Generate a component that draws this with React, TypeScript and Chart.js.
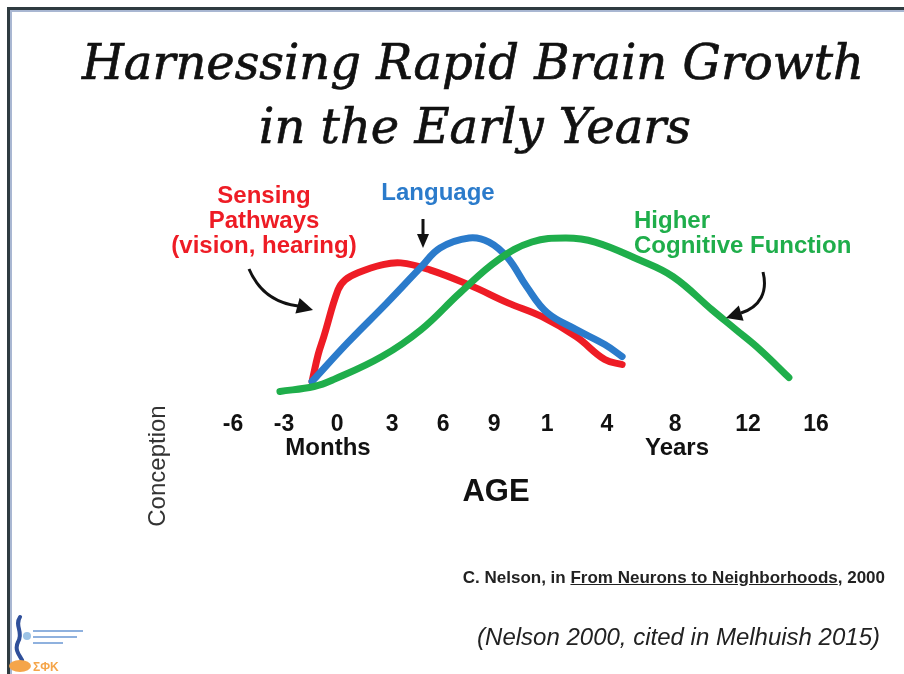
import React, { useEffect, useRef } from "react";
import { Chart, registerables } from "chart.js";

Chart.register(...registerables);

// ---- axis ticks (positions in axis units, labels as printed) ----
const TICK_POS = [0, 1, 2.04, 3.12, 4.12, 5.12, 6.16, 7.33, 8.67, 10.1, 11.43];
const TICK_LABELS = ["-6", "-3", "0", "3", "6", "9", "1", "4", "8", "12", "16"];

// ---- series (x in axis units, y = relative growth 0..100) ----
const SENSING_X = [1.55, 1.67, 1.78, 2.06, 2.2, 2.45, 2.92, 3.29, 3.86, 4.63, 5.39, 6.06, 6.73, 7.29, 7.63];
const SENSING_Y = [10.6, 26.5, 37, 64.7, 70.6, 74.7, 79.4, 80.6, 76.5, 67.6, 57, 48.8, 37, 23.5, 20.6];

const LANGUAGE_X = [1.55, 2.25, 3.02, 3.69, 4.06, 4.63, 5.02, 5.39, 5.76, 6.16, 6.73, 7.29, 7.63];
const LANGUAGE_Y = [10.6, 33.5, 57, 78.2, 89.4, 95.3, 92.9, 83.5, 66.5, 51.2, 41.2, 32.4, 25.3];

const COGNITIVE_X = [0.92, 1.59, 1.98, 2.92, 3.69, 4.45, 5.2, 5.86, 6.53, 7.1, 7.96, 8.63, 9.39, 9.86, 10.33, 10.9];
const COGNITIVE_Y = [4.7, 7.6, 11.8, 25.3, 41.2, 62.9, 82.4, 92.9, 95.3, 92.9, 82.4, 72.4, 52.9, 41.2, 29.4, 12.9];

const SANS = '"Liberation Sans", Arial, Helvetica, sans-serif';
const SERIF = '"DejaVu Serif", "Liberation Serif", serif';

const RED = "#ee1c25";
const BLUE = "#2b7bcb";
const GREEN = "#1fae4b";

const toPoints = (xs: number[], ys: number[]) => xs.map((x, i) => ({ x, y: ys[i] }));

function Txt(props: {
  text: React.ReactNode;
  x: number;
  y: number;
  size: number;
  color?: string;
  weight?: string;
  italic?: boolean;
  family?: string;
  align?: "center" | "left" | "right";
  stroke?: number;
}) {
  const { text, x, y, size, color = "#111", weight = "normal", italic = false, family = SANS, align = "center", stroke = 0 } = props;
  const style: React.CSSProperties = {
    position: "absolute",
    top: y - size / 2,
    whiteSpace: "nowrap",
    fontFamily: family,
    fontSize: size,
    lineHeight: `${size}px`,
    fontWeight: weight as any,
    fontStyle: italic ? "italic" : "normal",
    color,
  };
  if (stroke) (style as any).WebkitTextStroke = `${stroke}px ${color}`;
  if (align === "center") {
    style.left = x;
    style.transform = "translateX(-50%)";
  } else if (align === "left") {
    style.left = x;
  } else {
    style.right = 904 - x;
  }
  return <div style={style}>{text}</div>;
}

export default function App() {
  const canvasRef = useRef<HTMLCanvasElement | null>(null);

  useEffect(() => {
    if (!canvasRef.current) return;
    const lineStyle = {
      borderWidth: 7,
      pointRadius: 0,
      tension: 0.4,
      borderCapStyle: "round" as const,
      borderJoinStyle: "round" as const,
      fill: false,
      clip: false as any,
    };
    const chart = new Chart(canvasRef.current, {
      type: "line",
      data: {
        datasets: [
          { label: "Higher Cognitive Function", data: toPoints(COGNITIVE_X, COGNITIVE_Y), borderColor: GREEN, ...lineStyle },
          { label: "Language", data: toPoints(LANGUAGE_X, LANGUAGE_Y), borderColor: BLUE, ...lineStyle },
          { label: "Sensing Pathways", data: toPoints(SENSING_X, SENSING_Y), borderColor: RED, ...lineStyle },
        ],
      },
      options: {
        responsive: false,
        animation: false,
        maintainAspectRatio: false,
        layout: { padding: { left: 182, right: 8, top: 230, bottom: 225 } },
        plugins: {
          legend: { display: false },
          tooltip: { enabled: false },
          title: { display: false },
        },
        scales: {
          x: {
            type: "linear",
            min: -1,
            max: 13,
            grid: { display: false, drawTicks: false },
            border: { display: false },
            afterBuildTicks: (scale: any) => {
              scale.ticks = TICK_POS.map((v) => ({ value: v }));
            },
            ticks: {
              autoSkip: false,
              maxRotation: 0,
              minRotation: 0,
              padding: 11,
              color: "#111",
              font: { family: SANS, size: 23, weight: "bold" },
              callback: (_v: any, i: number) => TICK_LABELS[i],
            },
          },
          y: { display: false, min: 0, max: 100 },
        },
      },
    } as any);
    return () => chart.destroy();
  }, []);

  return (
    <div
      style={{
        position: "fixed",
        left: 0,
        top: 0,
        width: 904,
        height: 674,
        background: "#fff",
        overflow: "hidden",
      }}
    >
      <canvas ref={canvasRef} width={904} height={674} style={{ position: "absolute", left: 0, top: 0, width: 904, height: 674 }} />

      {/* slide border */}
      <div style={{ position: "absolute", left: 7, top: 7, width: 897, height: 3, background: "#2f3b40" }} />
      <div style={{ position: "absolute", left: 10, top: 10, width: 894, height: 2, background: "#a9b7d2" }} />
      <div style={{ position: "absolute", left: 7, top: 7, width: 3, height: 667, background: "#2f3b40" }} />
      <div style={{ position: "absolute", left: 10, top: 10, width: 2, height: 664, background: "#a9b7d2" }} />

      {/* title */}
      <Txt text="Harnessing Rapid Brain Growth" x={473} y={62} size={48} family={SERIF} italic stroke={0.7} />
      <Txt text="in the Early Years" x={475} y={126} size={48} family={SERIF} italic stroke={0.7} />

      {/* series annotations */}
      <Txt text="Sensing" x={264} y={195} size={24} weight="bold" color={RED} />
      <Txt text="Pathways" x={264} y={220} size={24} weight="bold" color={RED} />
      <Txt text="(vision, hearing)" x={264} y={245} size={24} weight="bold" color={RED} />
      <Txt text="Language" x={438} y={192} size={24} weight="bold" color={BLUE} />
      <Txt text="Higher" x={634} y={220} size={24} weight="bold" color={GREEN} align="left" />
      <Txt text="Cognitive Function" x={634} y={245} size={24} weight="bold" color={GREEN} align="left" />

      {/* arrows */}
      <svg width={904} height={674} style={{ position: "absolute", left: 0, top: 0 }}>
        <path d="M 249 269 C 258 290, 274 303, 298 306" stroke="#111" strokeWidth={3} fill="none" />
        <polygon points="313,310 299.6,298 295.4,313.6" fill="#111" />
        <line x1={423} y1={219} x2={423} y2={236} stroke="#111" strokeWidth={3} />
        <polygon points="423,248 417,234 429,234" fill="#111" />
        <path d="M 763 272 C 768 292, 760 307, 741 313" stroke="#111" strokeWidth={3} fill="none" />
        <polygon points="726,318 743.6,320.8 738.8,305.6" fill="#111" />

        {/* logo */}
        <path d="M 20 617 C 14 626, 24 632, 18 642 C 14 650, 20 656, 22 660" stroke="#2f4f9a" strokeWidth={4} fill="none" strokeLinecap="round" />
        <circle cx={27} cy={636} r={4} fill="#9cc3e6" />
        <ellipse cx={20} cy={666} rx={11} ry={6} fill="#f5a54a" />
        <rect x={33} y={630} width={50} height={2} fill="#8fb1de" />
        <rect x={33} y={636} width={44} height={2} fill="#8fb1de" />
        <rect x={33} y={642} width={30} height={2} fill="#8fb1de" />
        <text x={33} y={671} fontFamily={SANS} fontSize={12} fontWeight="bold" fill="#f5a54a">ΣΦΚ</text>
      </svg>

      {/* axis annotations */}
      <Txt text="Months" x={328} y={447} size={24} weight="bold" />
      <Txt text="Years" x={677} y={447} size={24} weight="bold" />
      <Txt text="AGE" x={496} y={490} size={31} weight="bold" />
      <div
        style={{
          position: "absolute",
          left: 157,
          top: 466,
          transform: "translate(-50%, -50%) rotate(-90deg)",
          whiteSpace: "nowrap",
          fontFamily: SANS,
          fontSize: 24,
          lineHeight: "24px",
          color: "#333",
        }}
      >
        Conception
      </div>

      {/* sources */}
      <Txt
        text={
          <>
            C. Nelson, in <span style={{ textDecoration: "underline" }}>From Neurons to Neighborhoods</span>, 2000
          </>
        }
        x={885}
        y={577}
        size={17}
        weight="bold"
        color="#222"
        align="right"
      />
      <Txt text="(Nelson 2000, cited in Melhuish 2015)" x={880} y={637} size={24} italic color="#222" align="right" />
    </div>
  );
}
